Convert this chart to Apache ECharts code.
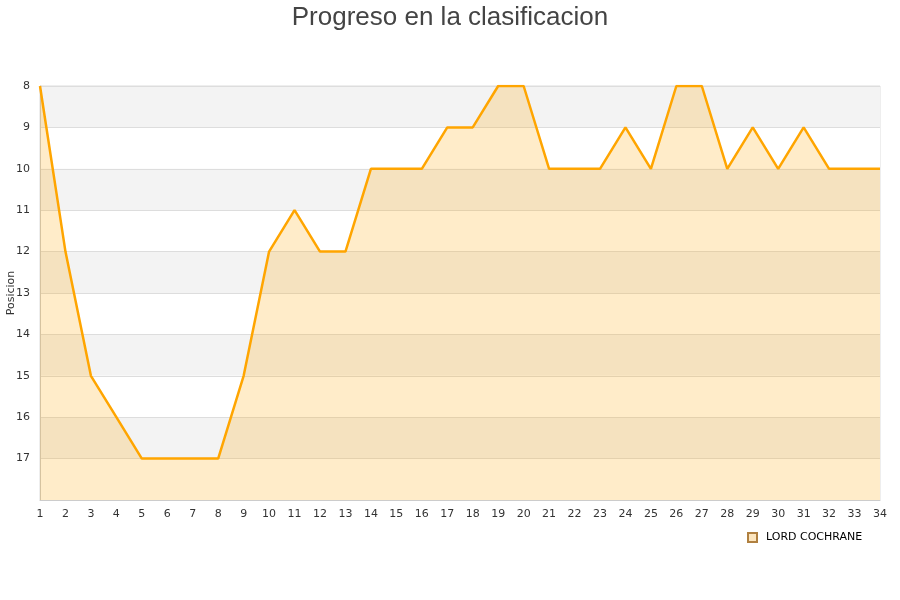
<!DOCTYPE html>
<html><head><meta charset="utf-8">
<script src="https://cdn.jsdelivr.net/npm/echarts@6/dist/echarts.min.js"></script>
<style>html,body{margin:0;padding:0;background:#fff}#c{width:900px;height:600px}</style>
</head><body><div id="c"></div>
<script>
const titleText = 'Progreso en la clasificacion';
const seriesName = 'LORD COCHRANE';
const jornadas = ['1','2','3','4','5','6','7','8','9','10','11','12','13','14','15','16','17','18','19','20','21','22','23','24','25','26','27','28','29','30','31','32','33','34'];
const posiciones = [8,12,15,16,17,17,17,17,15,12,11,12,12,10,10,10,9,9,8,8,10,10,10,9,10,8,8,10,9,10,9,10,10,10];
const yMin = 8, yMax = 18;

const chart = echarts.init(document.getElementById('c'), null, {renderer:'canvas'});
chart.setOption({
  animation:false,
  backgroundColor:'#fff',
  title:{text:titleText,left:'center',top:0,textStyle:{fontFamily:'Liberation Sans',fontSize:26,fontWeight:'normal',color:'#444'}},
  grid:{left:40,right:20,top:86,bottom:100,containLabel:false,outerBoundsMode:'none',show:true,borderColor:'#ddd',borderWidth:1,backgroundColor:'transparent'},
  legend:{data:[{name:seriesName,icon:'rect'}],left:742,top:527,itemWidth:9,itemHeight:9,itemGap:10,
    textStyle:{fontFamily:'DejaVu Sans',fontSize:11,color:'#000',padding:[0,0,0,4]}},
  xAxis:{type:'category',data:jornadas,boundaryGap:false,
    axisLine:{lineStyle:{color:'#ccc'}},axisTick:{show:false},
    axisLabel:{fontFamily:'DejaVu Sans',fontSize:11,color:'#333',margin:9,interval:0},
    splitLine:{show:false}},
  yAxis:{type:'value',inverse:true,min:yMin,max:yMax,interval:1,
    name:'Posicion',nameLocation:'middle',nameGap:23,nameRotate:90,nameMoveOverlap:false,
    nameTextStyle:{fontFamily:'DejaVu Sans',fontSize:11,color:'#333'},
    axisLine:{show:true,lineStyle:{color:'#ccc'}},axisTick:{show:false},
    axisLabel:{fontFamily:'DejaVu Sans',fontSize:11,color:'#333',margin:10,
      formatter:v=> v===yMax?'':String(v)},
    splitLine:{show:true,lineStyle:{color:'#ddd'}},
    splitArea:{show:true,areaStyle:{color:['#f3f3f3','#ffffff']}}},
  series:[{name:seriesName,type:'line',data:posiciones,symbol:'none',
    lineStyle:{color:'#ffa500',width:2.5},
    itemStyle:{color:'#fde6bf',borderColor:'#b08040',borderWidth:1},
    areaStyle:{color:'#ffa500',opacity:0.21,origin:'end'}}]
});
</script></body></html>
